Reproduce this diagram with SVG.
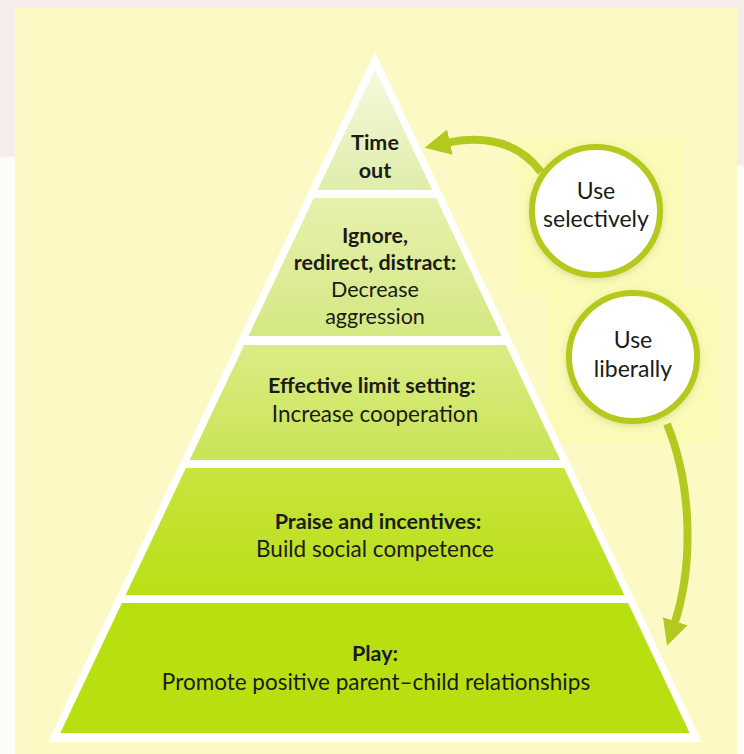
<svg xmlns="http://www.w3.org/2000/svg" width="744" height="754" viewBox="0 0 744 754">
  <style>
    .bold { font-family: Lato, "Noto Sans", sans-serif; font-weight: 700; font-size: 21.5px; fill: #1b1b18; text-anchor: middle; }
    .reg { font-family: Lato, "Noto Sans", sans-serif; font-weight: 400; font-size: 22.5px; fill: #1b1b18; text-anchor: middle; }
    .tight { font-size: 21.5px; }
    .circ { font-family: Lato, "Noto Sans", sans-serif; font-weight: 400; font-size: 23px; fill: #1b1b18; text-anchor: middle; }
    .ring { fill: #ffffff; stroke: #b4c91f; stroke-width: 6; }
    .arrow { fill: none; stroke: #b4c91f; stroke-width: 8; stroke-linecap: butt; }
  </style>
  <defs>
    <marker id="head" markerUnits="userSpaceOnUse" markerWidth="30" markerHeight="30" refX="4" refY="13" orient="auto">
      <path d="M0,0 L26,13 L0,26 Z" fill="#b4c91f"/>
    </marker>
    <filter id="soft" x="-20%" y="-20%" width="140%" height="140%">
      <feDropShadow dx="0" dy="2" stdDeviation="3" flood-color="#8a8a40" flood-opacity="0.25"/>
    </filter>
    <linearGradient id="g1" x1="0" y1="0" x2="0" y2="1">
      <stop offset="0" stop-color="#f6f9dc"/>
      <stop offset="1" stop-color="#dfedab"/>
    </linearGradient>
    <linearGradient id="g2" x1="0" y1="0" x2="0" y2="1">
      <stop offset="0" stop-color="#e6f1ae"/>
      <stop offset="1" stop-color="#d4e883"/>
    </linearGradient>
    <linearGradient id="g3" x1="0" y1="0" x2="0" y2="1">
      <stop offset="0" stop-color="#dbec86"/>
      <stop offset="1" stop-color="#c9e455"/>
    </linearGradient>
    <linearGradient id="g4" x1="0" y1="0" x2="0" y2="1">
      <stop offset="0" stop-color="#c8e43e"/>
      <stop offset="1" stop-color="#badf16"/>
    </linearGradient>
  </defs>

  <!-- page background -->
  <rect x="0" y="0" width="744" height="754" fill="#f6ecea"/>
  <path d="M0,158 Q372,110 744,166 L744,754 L0,754 Z" fill="#fefcf9"/>
  <rect x="15" y="8" width="722" height="746" fill="#fcf9c4"/>
  <!-- soft tiles behind the two circles -->
  <rect x="513" y="137" width="170" height="158" fill="#fbfab6"/>
  <rect x="547" y="289" width="170" height="154" fill="#fbfab6"/>

  <!-- pyramid -->
  <g id="pyramid">
    <polygon points="375,52 48,742 702,742" fill="#ffffff"/>
    <g id="tier-time-out">
      <polygon points="375,69 317.6,190 432.4,190" fill="url(#g1)"/>
      <text class="bold" x="375" y="150">Time</text>
      <text class="bold" x="375" y="178">out</text>
    </g>
    <g id="tier-ignore">
      <polygon points="313.9,198 436.1,198 501.6,336 248.4,336" fill="url(#g2)"/>
      <text class="bold" x="375" y="243">Ignore,</text>
      <text class="bold" x="375" y="270">redirect, distract:</text>
      <text class="reg tight" x="375" y="297">Decrease</text>
      <text class="reg tight" x="375" y="324">aggression</text>
    </g>
    <g id="tier-limits">
      <polygon points="244.2,345 505.8,345 560.3,460 189.7,460" fill="url(#g3)"/>
      <text class="bold" x="372" y="393">Effective limit setting:</text>
      <text class="reg" x="375" y="422">Increase cooperation</text>
    </g>
    <g id="tier-praise">
      <polygon points="185.9,468 564.1,468 624.3,595 125.7,595" fill="url(#g4)"/>
      <text class="bold" x="378" y="529">Praise and incentives:</text>
      <text class="reg" x="375" y="557">Build social competence</text>
    </g>
    <g id="tier-play">
      <polygon points="121.9,603 628.1,603 689.7,733 60.3,733" fill="#b8e011"/>
      <text class="bold" x="375" y="661">Play:</text>
      <text class="reg" x="376" y="690">Promote positive parent–child relationships</text>
    </g>
  </g>

  <!-- connectors -->
  <g id="connectors">
    <path class="arrow" d="M541,172 C515,138 478,136 446,143" marker-end="url(#head)"/>
    <path class="arrow" d="M667,424 C692,485 694,565 674,625" marker-end="url(#head)"/>
  </g>

  <g id="use-selectively">
    <circle class="ring" cx="596" cy="211" r="64" filter="url(#soft)"/>
    <text class="circ" x="596" y="199">Use</text>
    <text class="circ" x="596" y="227">selectively</text>
  </g>
  <g id="use-liberally">
    <circle class="ring" cx="633" cy="357" r="64" filter="url(#soft)"/>
    <text class="circ" x="633" y="348">Use</text>
    <text class="circ" x="633" y="377">liberally</text>
  </g>
</svg>
